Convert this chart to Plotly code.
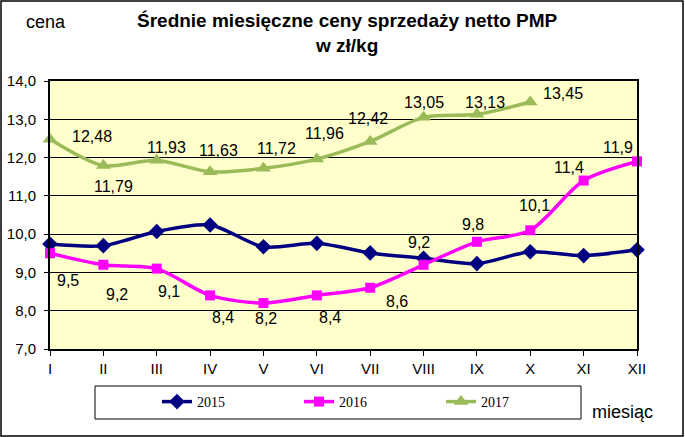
import plotly.graph_objects as go

months = ["I", "II", "III", "IV", "V", "VI", "VII", "VIII", "IX", "X", "XI", "XII"]
v2015 = [9.74, 9.70, 10.07, 10.24, 9.67, 9.76, 9.51, 9.37, 9.23, 9.54, 9.44, 9.59]
v2016 = [9.5, 9.2, 9.1, 8.4, 8.2, 8.4, 8.6, 9.2, 9.8, 10.1, 11.4, 11.9]
v2017 = [12.48, 11.79, 11.93, 11.63, 11.72, 11.96, 12.42, 13.05, 13.13, 13.45]
yticks = [7, 8, 9, 10, 11, 12, 13, 14]

# label offsets (pixels) - styling only
off2016 = [(18, -27), (14, -30), (12, -23), (13, -22), (3, -15), (13, -22),
           (27, -14), (-5, 22), (-4, 17), (4, 25), (-15, 13), (-19, 14)]
off2017 = [(42, 3), (10, -21), (10, 13), (8, 21), (13, 20), (8, 26),
           (-2, 23), (0, 15), (8, 12), (33, 9)]

L, R, T, B = 50, 637, 81, 349
PW, PH = R - L, B - T


def px(xp):
    return (xp - L) / PW


def py(yp):
    return (B - yp) / PH


x = list(range(12))
fig = go.Figure()
fig.add_trace(go.Scatter(x=x, y=v2015, name="2015", mode="lines+markers", legend="legend",
                         line=dict(color="#000080", width=3.5, shape="spline", smoothing=0.8),
                         marker=dict(symbol="diamond", size=12, color="#000080"),
                         cliponaxis=False))
fig.add_trace(go.Scatter(x=x, y=v2016, name="2016", mode="lines+markers", legend="legend2",
                         line=dict(color="#FF00FF", width=3.5, shape="spline", smoothing=0.8),
                         marker=dict(symbol="square", size=10, color="#FF00FF"),
                         cliponaxis=False))
fig.add_trace(go.Scatter(x=x[:len(v2017)], y=v2017, name="2017", mode="lines+markers", legend="legend3",
                         line=dict(color="#9BBB59", width=3.5, shape="spline", smoothing=0.8),
                         marker=dict(symbol="triangle-up", size=13, color="#9BBB59"),
                         cliponaxis=False))

lab_font = dict(family="Liberation Sans, Arial", size=16, color="#000000")
for i, v in enumerate(v2016):
    dx, dy = off2016[i]
    fig.add_annotation(x=i, y=v, text=("%g" % v).replace(".", ","), showarrow=False,
                       xshift=dx, yshift=dy, font=lab_font)
for i, v in enumerate(v2017):
    dx, dy = off2017[i]
    fig.add_annotation(x=i, y=v, text=("%.2f" % v).replace(".", ","), showarrow=False,
                       xshift=dx, yshift=dy, font=lab_font)

fig.add_annotation(xref="paper", yref="paper", x=px(348), y=py(33),
                   text="<b>Średnie miesięczne ceny sprzedaży netto PMP<br>w zł/kg</b>",
                   showarrow=False, font=dict(family="Liberation Sans, Arial", size=19, color="#000"),
                   xanchor="center", yanchor="middle")
fig.add_annotation(xref="paper", yref="paper", x=px(46), y=py(22),
                   text="cena", showarrow=False,
                   font=dict(family="Liberation Sans, Arial", size=18, color="#000"),
                   xanchor="center", yanchor="middle")
fig.add_annotation(xref="paper", yref="paper", x=px(622), y=py(412),
                   text="miesiąc", showarrow=False,
                   font=dict(family="Liberation Sans, Arial", size=18, color="#000"),
                   xanchor="center", yanchor="middle")

# legend box
fig.add_shape(type="rect", xref="paper", yref="paper",
              x0=px(95), x1=px(581), y0=py(386), y1=py(419),
              line=dict(color="#000", width=1), fillcolor="white", layer="below")
# outer border
fig.add_shape(type="rect", xref="paper", yref="paper",
              x0=px(1), x1=px(683), y0=py(1), y1=py(436),
              line=dict(color="#000", width=1.5))

leg_font = dict(family="Liberation Serif, Times New Roman", size=14, color="#000")
leg_common = dict(xanchor="left", yanchor="middle", bgcolor="rgba(0,0,0,0)", font=leg_font,
                  orientation="h")
tick_font = dict(family="Liberation Sans, Arial", size=15, color="#000")
fig.update_layout(
    width=685, height=437,
    margin=dict(l=L, r=685 - R, t=T, b=437 - B, autoexpand=False),
    paper_bgcolor="white", plot_bgcolor="#FFFFCC",
    showlegend=True,
    legend=dict(x=px(157), y=py(402), **leg_common),
    legend2=dict(x=px(299), y=py(402), **leg_common),
    legend3=dict(x=px(441), y=py(402), **leg_common),
    xaxis=dict(range=[0, 11], tickvals=x, ticktext=months, showgrid=False, zeroline=False,
               showline=True, linecolor="#000", linewidth=2, mirror=True,
               ticks="outside", ticklen=5, tickcolor="#000", tickfont=tick_font),
    yaxis=dict(range=[7, 14], tickvals=yticks, ticktext=[("%.1f" % t).replace(".", ",") for t in yticks],
               showgrid=True, gridcolor="#000", gridwidth=1, zeroline=False,
               showline=True, linecolor="#000", linewidth=2, mirror=True,
               ticks="outside", ticklen=4, tickcolor="#000", tickfont=tick_font,
               ticklabelstandoff=5),
)
fig.write_html("out.html", config={"displayModeBar": False},
               post_script="document.body.style.margin='0';")
